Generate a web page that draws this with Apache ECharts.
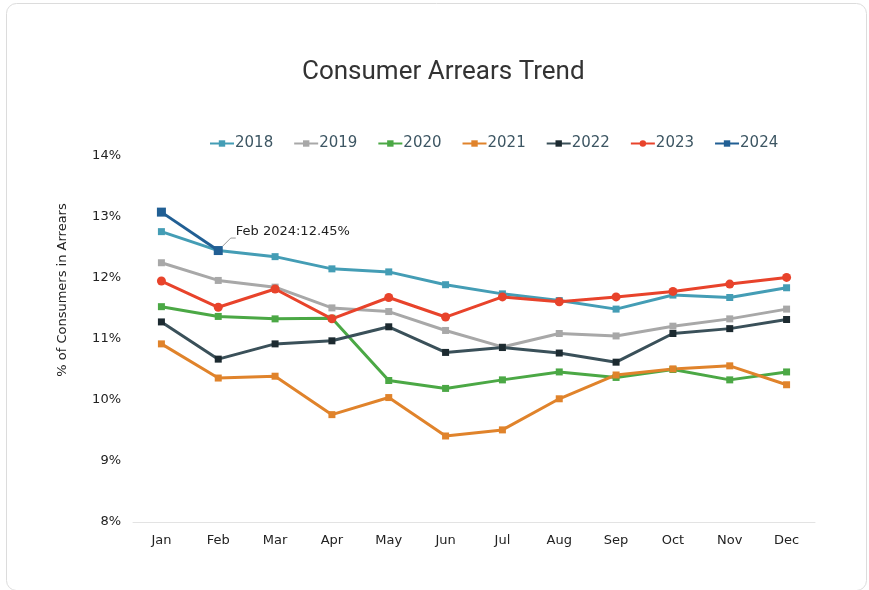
<!DOCTYPE html>
<html>
<head>
<meta charset="utf-8">
<script src="https://cdn.jsdelivr.net/npm/echarts@6/dist/echarts.min.js"></script>
<style>
  html, body { margin: 0; padding: 0; background: #fff; }
  #chart { width: 869px; height: 590px; }
</style>
</head>
<body>
<div id="chart"></div>
<script>
// Monthly share of consumers in arrears (%), by year
const months = ['Jan','Feb','Mar','Apr','May','Jun','Jul','Aug','Sep','Oct','Nov','Dec'];
const yTicks = [8, 9, 10, 11, 12, 13, 14];

const v2018 = [12.76, 12.45, 12.35, 12.15, 12.10, 11.89, 11.74, 11.63, 11.49, 11.72, 11.68, 11.84];
const v2019 = [12.25, 11.96, 11.85, 11.51, 11.45, 11.14, 10.87, 11.09, 11.05, 11.21, 11.33, 11.49];
const v2020 = [11.53, 11.37, 11.33, 11.34, 10.32, 10.19, 10.33, 10.46, 10.37, 10.50, 10.33, 10.46];
const v2021 = [10.92, 10.36, 10.39, 9.76, 10.04, 9.41, 9.51, 10.02, 10.41, 10.51, 10.56, 10.25];
const v2022 = [11.28, 10.67, 10.92, 10.97, 11.20, 10.78, 10.86, 10.77, 10.62, 11.09, 11.17, 11.32];
const v2023 = [11.95, 11.52, 11.82, 11.33, 11.68, 11.36, 11.69, 11.61, 11.69, 11.78, 11.90, 12.01];
const v2024 = [13.08, 12.45];

const chart = echarts.init(document.getElementById('chart'));

function lineSeries(name, data, color, symbolColor, symbol, size) {
  return {
    name: name,
    type: 'line',
    data: data,
    symbol: symbol,
    symbolSize: size,
    lineStyle: { width: 3, color: color },
    itemStyle: { color: symbolColor, borderWidth: 0 },
    emphasis: { disabled: true },
    z: 2
  };
}

// Callout on the latest reading of 2024
const data2024 = v2024.map((v, i) => i === v2024.length - 1 ? {
  value: v,
  label: {
    show: true,
    formatter: months[i] + ' 2024:' + v.toFixed(2) + '%',
    position: 'right',
    offset: [8, -19],
    color: '#222',
    fontFamily: 'DejaVu Sans',
    fontSize: 13
  },
  labelLine: { show: true, length2: 5, lineStyle: { color: '#999', width: 1 } }
} : v);

const s2024 = lineSeries('2024', data2024, '#215f94', '#215f94', 'rect', 9);
s2024.z = 5;

chart.setOption({
  animation: false,
  backgroundColor: '#fff',
  graphic: [{
    type: 'rect',
    left: 4, top: 1,
    shape: { width: 860, height: 587, r: 10 },
    style: { fill: 'none', stroke: '#dcdcdc', lineWidth: 1 },
    silent: true
  }],
  title: {
    text: 'Consumer Arrears Trend',
    left: 297,
    top: 54,
    textStyle: { fontFamily: 'Roboto', fontSize: 26, fontWeight: 'normal', color: '#333' }
  },
  legend: {
    top: 131,
    left: 204,
    itemGap: 20,
    itemWidth: 24,
    itemHeight: 8,
    textStyle: { fontFamily: 'DejaVu Sans', fontSize: 15, color: '#3d5663', padding: [0, 0, 0, -4] },
    data: ['2018','2019','2020','2021','2022','2023','2024']
  },
  grid: { left: 133, right: 54, top: 156, bottom: 68 },
  xAxis: {
    type: 'category',
    data: months,
    boundaryGap: true,
    axisLine: { lineStyle: { color: '#e3e3e3', width: 1 } },
    axisTick: { show: false },
    axisLabel: { color: '#222', fontFamily: 'DejaVu Sans', fontSize: 13, margin: 12 }
  },
  yAxis: {
    type: 'value',
    min: yTicks[0],
    max: yTicks[yTicks.length - 1],
    interval: 1,
    name: '% of Consumers in Arrears',
    nameLocation: 'middle',
    nameGap: 64,
    nameTextStyle: { color: '#222', fontFamily: 'DejaVu Sans', fontSize: 13, padding: [0, 0, 0, 98] },
    axisLine: { show: false },
    axisTick: { show: false },
    splitLine: { show: false },
    axisLabel: { color: '#222', fontFamily: 'DejaVu Sans', fontSize: 13, margin: 12, formatter: '{value}%' }
  },
  series: [
    lineSeries('2018', v2018, '#449db5', '#449db5', 'rect', 7),
    lineSeries('2019', v2019, '#a8a8a8', '#a8a8a8', 'rect', 7),
    lineSeries('2020', v2020, '#4ba845', '#4ba845', 'rect', 7),
    lineSeries('2021', v2021, '#e0832b', '#e0832b', 'rect', 7),
    lineSeries('2022', v2022, '#3a5059', '#1c2a30', 'rect', 7),
    lineSeries('2023', v2023, '#e8432b', '#e8432b', 'circle', 9),
    s2024
  ]
});
</script>
</body>
</html>
